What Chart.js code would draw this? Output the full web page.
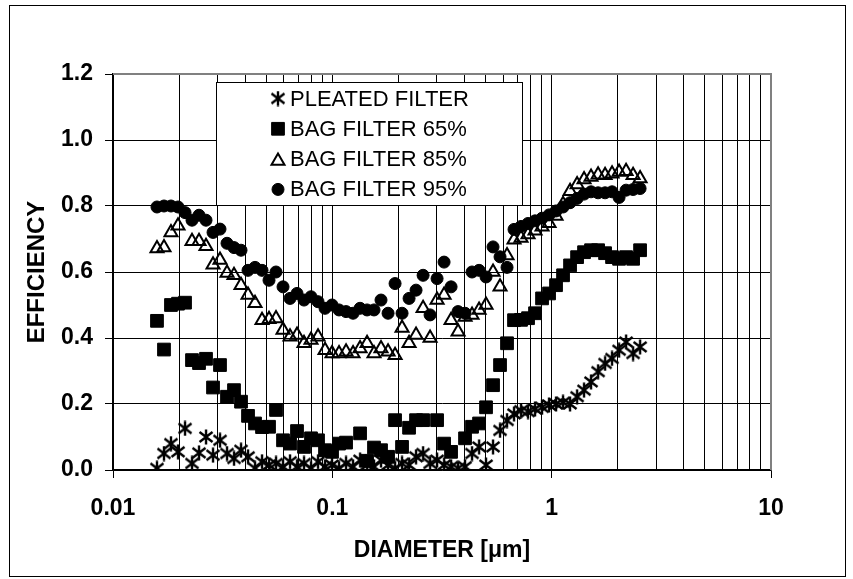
<!DOCTYPE html>
<html>
<head>
<meta charset="utf-8">
<script src="https://cdn.jsdelivr.net/npm/chart.js@4.4.1/dist/chart.umd.min.js"></script>
<style>
  html, body { margin: 0; padding: 0; background: #fff; }
  #wrap { width: 853px; height: 579px; }
</style>
</head>
<body>
<div id="wrap"><canvas id="effChart" width="853" height="579"></canvas></div>
<script>
const diameters = [
	0.01587, 0.01708, 0.01838, 0.01979, 0.02130, 0.02292, 0.02467, 0.02655, 0.02858, 0.03075,
	0.03310, 0.03562, 0.03834, 0.04127, 0.04441, 0.04780, 0.05144, 0.05536, 0.05959, 0.06413,
	0.06902, 0.07428, 0.07994, 0.08605, 0.09262, 0.09968, 0.1073, 0.1155, 0.1243, 0.1338,
	0.1440, 0.1549, 0.1667, 0.1795, 0.1932, 0.2079, 0.2238, 0.2408, 0.2593, 0.2790,
	0.3003, 0.3232, 0.3478, 0.3743, 0.4028, 0.4335, 0.4667, 0.5021, 0.5404, 0.5816,
	0.6259, 0.6736, 0.7250, 0.7804, 0.8399, 0.9040, 0.9730, 1.047, 1.127, 1.213,
	1.306, 1.405, 1.512, 1.628, 1.752, 1.885, 2.029, 2.184, 2.351, 2.530
];
const pleatedFilter = [
	0.005, 0.05, 0.08, 0.055, 0.126, 0.02, 0.052, 0.10, 0.045, 0.09,
	0.05, 0.035, 0.06, 0.04, 0.005, 0.025, 0.015, 0.02, 0.01, 0.025,
	0.01, 0.02, 0.005, 0.025, 0.01, 0.015, 0.005, 0.02, 0.01, 0.03,
	0.015, 0.01, 0.03, 0.015, 0.005, 0.02, 0.015, 0.04, 0.05, 0.02,
	0.03, 0.015, 0.01, 0.005, 0.01, 0.05, 0.07, 0.015, 0.07, 0.12,
	0.15, 0.17, 0.18, 0.177, 0.185, 0.19, 0.197, 0.20, 0.205, 0.20,
	0.222, 0.242, 0.267, 0.298, 0.323, 0.338, 0.363, 0.388, 0.353, 0.373
];
const bagFilter65 = [
	0.452, 0.365, 0.50, 0.504, 0.507, 0.333, 0.324, 0.337, 0.25, 0.318,
	0.222, 0.242, 0.207, 0.164, 0.141, 0.13, 0.131, 0.182, 0.09, 0.08,
	0.118, 0.07, 0.096, 0.09, 0.06, 0.055, 0.08, 0.083, null, 0.111,
	0.028, 0.068, 0.06, 0.04, 0.151, 0.07, 0.128, 0.151, 0.151, null,
	0.151, 0.08, 0.055, null, 0.096, 0.131, 0.141, 0.19, 0.257, 0.318,
	0.384, 0.454, 0.455, 0.46, 0.475, 0.52, 0.535, 0.56, 0.59, 0.62,
	0.645, 0.66, 0.666, 0.666, 0.657, 0.645, 0.64, 0.645, 0.64, 0.666
];
const bagFilter85 = [
	0.671, 0.674, 0.72, 0.74, null, 0.693, 0.693, 0.678, 0.622, 0.636,
	0.597, 0.59, 0.56, 0.53, 0.505, 0.454, 0.457, 0.459, 0.424, 0.404,
	0.409, 0.384, 0.394, 0.404, 0.363, 0.353, 0.353, 0.358, 0.353, 0.368,
	0.384, 0.353, 0.368, 0.358, 0.348, 0.43, 0.384, 0.409, 0.49, 0.40,
	0.515, 0.53, 0.454, 0.419, 0.464, 0.47, 0.485, 0.50, 0.60, 0.555,
	0.65, 0.698, 0.703, 0.714, 0.725, 0.737, 0.748, 0.77, 0.805, 0.845,
	0.865, 0.88, 0.888, 0.895, 0.893, 0.898, 0.903, 0.905, 0.893, 0.883
];
const bagFilter95 = [
	0.797, 0.80, 0.80, 0.797, 0.78, 0.757, 0.772, 0.757, 0.72, 0.73,
	0.687, 0.674, 0.666, 0.605, 0.614, 0.605, 0.575, 0.60, 0.555, 0.52,
	0.535, 0.515, 0.525, 0.51, 0.49, 0.50, 0.485, 0.48, 0.475, 0.49,
	0.485, 0.485, 0.515, 0.475, 0.565, 0.475, 0.52, 0.545, 0.59, 0.47,
	0.58, 0.63, 0.555, 0.48, 0.475, 0.60, 0.605, 0.585, 0.676, 0.646,
	0.614, 0.729, 0.738, 0.747, 0.755, 0.763, 0.773, 0.785, 0.797, 0.81,
	0.823, 0.836, 0.843, 0.84, 0.84, 0.843, 0.826, 0.848, 0.85, 0.853
];
const seriesNames = ["PLEATED FILTER", "BAG FILTER 65%", "BAG FILTER 85%", "BAG FILTER 95%"];
const xTickLabels = [0.01, 0.1, 1, 10];
const yTickLabels = [0, 0.2, 0.4, 0.6, 0.8, 1.0, 1.2];

const FONT = "'Liberation Sans', Arial, sans-serif";
Chart.defaults.font.family = FONT;
Chart.defaults.color = "#000";

function toPoints(values) {
	return diameters
		.map((d, i) => ({ x: d, y: values[i] }))
		.filter((p) => p.y !== null);
}

// six-armed asterisk, like the old spreadsheet marker
function asteriskMarker(size, lw) {
	const c = document.createElement("canvas");
	c.width = size;
	c.height = size;
	const g = c.getContext("2d");
	g.strokeStyle = "#000";
	g.lineWidth = lw;
	g.beginPath();
	g.moveTo(size / 2, 0.5);
	g.lineTo(size / 2, size - 0.5);
	g.moveTo(1.5, 3);
	g.lineTo(size - 1.5, size - 3);
	g.moveTo(size - 1.5, 3);
	g.lineTo(1.5, size - 3);
	g.stroke();
	return c;
}
const starImg = asteriskMarker(16, 2.4);

// minor grid for the log axis: 1..9 in every decade
const xGrid = [];
xTickLabels.slice(0, -1).forEach((dec) => {
	for (let k = 1; k < 10; k++) xGrid.push(dec * k);
});
xGrid.push(xTickLabels[xTickLabels.length - 1]);

const frame = {
	id: "frame",
	beforeDatasetsDraw(chart) {
		const { ctx, chartArea: a } = chart;
		ctx.save();
		ctx.strokeStyle = "#808080";
		ctx.lineWidth = 2;
		ctx.beginPath();
		ctx.moveTo(a.left, a.top);
		ctx.lineTo(a.right, a.top);
		ctx.lineTo(a.right, a.bottom);
		ctx.stroke();
		ctx.restore();
	},
	afterDraw(chart) {
		const ctx = chart.ctx;
		ctx.save();
		ctx.strokeStyle = "#000";
		ctx.lineWidth = 1;
		ctx.strokeRect(9.5, 5.5, 836, 571);

		// legend box inside the plot
		const bx = 216, by = 82, bw = 306, bh = 123;
		ctx.fillStyle = "#fff";
		ctx.fillRect(bx, by, bw, bh);
		ctx.strokeRect(bx + 0.5, by + 0.5, bw, bh);
		ctx.font = "22px " + FONT;
		ctx.textBaseline = "middle";
		chart.data.datasets.forEach((ds, i) => {
			const y = by + 16.5 + 30.3 * i;
			const x = bx + 62;
			ctx.fillStyle = ds.pointStyle === "triangle" ? "#fff" : ds.pointBackgroundColor;
			ctx.strokeStyle = ds.pointBorderColor;
			ctx.lineWidth = ds.pointBorderWidth;
			Chart.helpers.drawPoint(ctx, {
				pointStyle: ds.pointStyle,
				radius: ds.pointRadius,
				borderWidth: ds.pointBorderWidth,
				rotation: 0,
			}, x, ds.pointStyle === "triangle" ? y + 2 : y);
			ctx.fillStyle = "#000";
			ctx.fillText(seriesNames[i], bx + 74, y + 1);
		});
		ctx.restore();
	},
};

new Chart(document.getElementById("effChart"), {
	type: "scatter",
	data: {
		datasets: [
			{
				label: seriesNames[0],
				data: toPoints(pleatedFilter),
				pointStyle: starImg,
				pointRadius: 8,
				pointBackgroundColor: "#000",
				pointBorderColor: "#000",
				pointBorderWidth: 2,
				order: 4,
			},
			{
				label: seriesNames[1],
				data: toPoints(bagFilter65),
				pointStyle: "rect",
				pointRadius: 9,
				pointBackgroundColor: "#000",
				pointBorderColor: "#000",
				pointBorderWidth: 1,
				order: 3,
			},
			{
				label: seriesNames[2],
				data: toPoints(bagFilter85),
				pointStyle: "triangle",
				pointRadius: 7.5,
				pointBackgroundColor: "rgba(0,0,0,0)",
				pointBorderColor: "#000",
				pointBorderWidth: 2,
				order: 2,
			},
			{
				label: seriesNames[3],
				data: toPoints(bagFilter95),
				pointStyle: "circle",
				pointRadius: 6,
				pointBackgroundColor: "#000",
				pointBorderColor: "#000",
				pointBorderWidth: 1,
				order: 1,
			},
		],
	},
	options: {
		responsive: false,
		animation: false,
		devicePixelRatio: 1,
		layout: { padding: { left: 0, right: 82, top: 74, bottom: 0 } },
		plugins: {
			legend: { display: false },
			tooltip: { enabled: false },
		},
		scales: {
			x: {
				type: "logarithmic",
				min: 0.01,
				max: 10,
				afterFit(scale) {
					scale.height = 109;
				},
				afterBuildTicks(scale) {
					scale.ticks = xGrid.map((v) => ({ value: v }));
				},
				ticks: {
					autoSkip: false,
					maxRotation: 0,
					padding: 17,
					font: { size: 23, weight: "bold" },
					callback: (v) => (xTickLabels.includes(v) ? String(v) : ""),
				},
				grid: {
					color: "#000",
					lineWidth: 1,
					tickLength: 8,
					tickColor: (c) => (c.tick && xTickLabels.includes(c.tick.value) ? "#000" : "rgba(0,0,0,0)"),
				},
				border: { color: "#000", width: 1.5 },
				title: {
					display: true,
					text: "DIAMETER [μm]",
					font: { size: 23, weight: "bold" },
					padding: { top: 0, bottom: 15 },
				},
			},
			y: {
				min: 0,
				max: 1.2,
				afterFit(scale) {
					scale.width = 113;
				},
				afterBuildTicks(scale) {
					scale.ticks = yTickLabels.map((v) => ({ value: v }));
				},
				ticks: {
					padding: 12,
					font: { size: 23, weight: "bold" },
					callback: (v) => Number(v).toFixed(1),
				},
				grid: {
					color: "#000",
					lineWidth: 1,
					tickLength: 8,
					tickColor: "#000",
				},
				border: { color: "#000", width: 1.5 },
				title: {
					display: true,
					text: "EFFICIENCY",
					font: { size: 24, weight: "bold" },
					padding: { top: 23, bottom: 0 },
				},
			},
		},
	},
	plugins: [frame],
});
</script>
</body>
</html>
